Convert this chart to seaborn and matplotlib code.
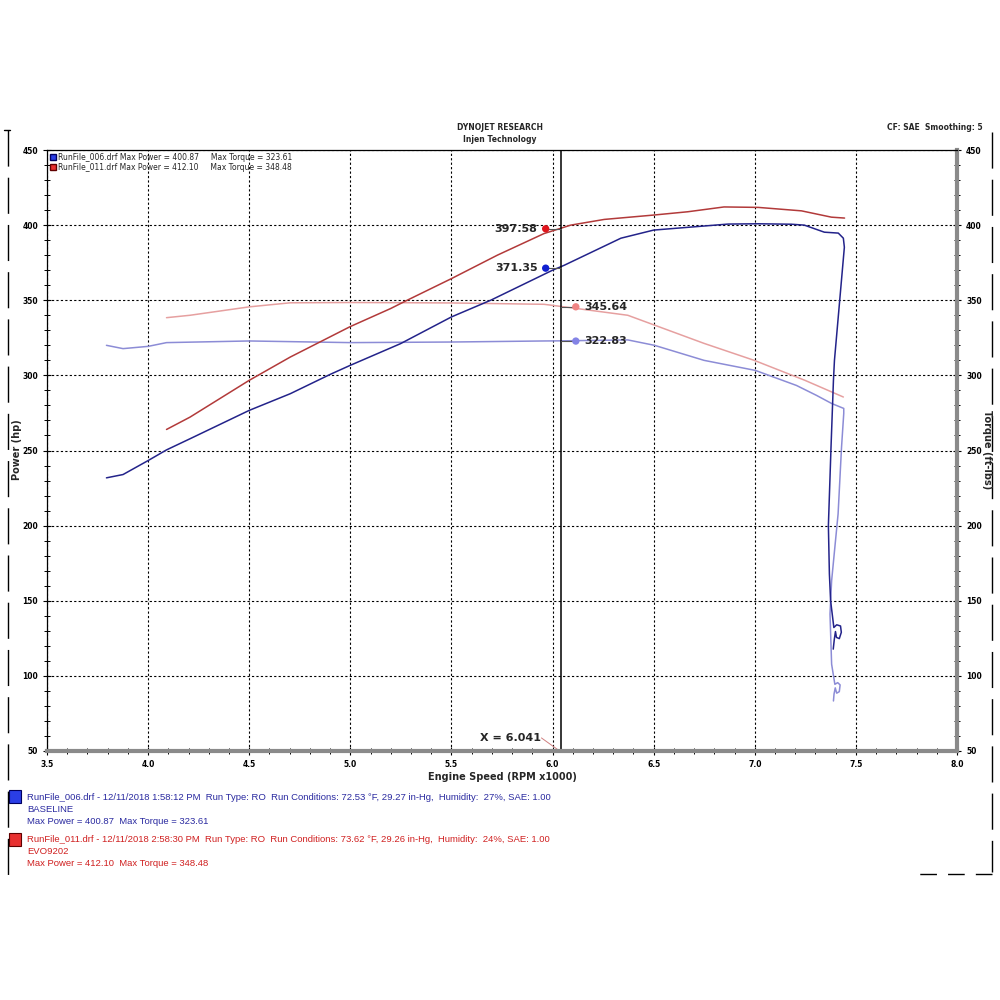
import numpy as np
import pandas as pd
import matplotlib
matplotlib.use("Agg")
import matplotlib.pyplot as plt
from matplotlib.lines import Line2D
from matplotlib.patches import Patch, Rectangle
from matplotlib.ticker import MultipleLocator
import seaborn as sns

# ---------------- data ----------------
base_power_rpm = [3.794, 3.876, 4.0, 4.091, 4.207, 4.5, 4.703, 4.901, 5.0, 5.248, 5.5, 5.694,
                  6.0, 6.058, 6.338, 6.5, 6.868, 7.017, 7.181, 7.245, 7.344, 7.413, 7.438,
                  7.443, 7.394, 7.389, 7.377, 7.364, 7.369, 7.375, 7.391, 7.405, 7.424,
                  7.428, 7.418, 7.404, 7.399, 7.393, 7.388]
base_power_hp = [231.8, 234.0, 243.3, 250.4, 257.8, 276.7, 287.8, 300.7, 306.7, 321.1, 338.9, 350.0,
                 370.0, 373.3, 391.3, 396.7, 400.7, 400.9, 400.6, 400.0, 395.3, 394.7, 391.3,
                 385.3, 310.0, 296.7, 252.2, 200.0, 167.8, 150.0, 132.2, 134.0, 133.2,
                 129.0, 124.8, 125.6, 129.5, 124.0, 117.8]

base_torque_rpm = [3.794, 3.876, 4.0, 4.091, 4.5, 5.0, 5.5, 5.958, 6.058, 6.372, 6.504, 6.749,
                   7.003, 7.206, 7.305, 7.38, 7.44, 7.44, 7.429, 7.412, 7.396, 7.38, 7.372,
                   7.38, 7.396, 7.41, 7.422, 7.418, 7.405, 7.398, 7.392, 7.389]
base_torque_ft = [320.0, 317.8, 319.3, 321.8, 322.9, 321.8, 322.2, 322.9, 323.0, 323.6, 320.0, 310.0,
                  303.3, 293.3, 286.7, 281.3, 278.0, 274.7, 252.2, 207.8, 185.6, 163.3, 141.1,
                  107.8, 94.4, 95.5, 94.0, 89.5, 88.5, 92.0, 88.0, 83.3]

evo_power_rpm = [4.091, 4.207, 4.5, 4.703, 5.0, 5.198, 5.281, 5.5, 5.727, 5.958, 6.09, 6.256,
                 6.5, 6.669, 6.848, 7.017, 7.231, 7.379, 7.444]
evo_power_hp = [264.0, 272.2, 296.7, 312.2, 332.5, 344.4, 350.0, 364.4, 380.0, 394.4, 400.0, 403.8,
                406.7, 408.9, 412.1, 411.8, 409.5, 405.3, 404.7]

evo_torque_rpm = [4.091, 4.207, 4.5, 4.703, 5.0, 5.198, 5.5, 5.958, 6.058, 6.372, 6.749, 6.997,
                  7.248, 7.438]
evo_torque_ft = [338.4, 340.0, 345.6, 348.3, 348.5, 348.4, 348.2, 347.3, 345.6, 340.0, 321.3, 310.0,
                 296.7, 285.6]

cursor_x = 6.041
marker_x = [5.966, 5.966, 6.115, 6.115]
marker_y = [397.58, 371.35, 345.64, 322.83]
marker_lbl = ["397.58", "371.35", "345.64", "322.83"]

x_ticks = [3.5, 4.0, 4.5, 5.0, 5.5, 6.0, 6.5, 7.0, 7.5, 8.0]
y_ticks = [50, 100, 150, 200, 250, 300, 350, 400, 450]

# ---------------- colours ----------------
c_bp = "#23238a"
c_bt = "#8c8cd6"
c_ep = "#b23a3a"
c_et = "#e6a0a0"
m_cols = ["#e0141c", "#1020d0", "#f08484", "#8484e6"]

sns.set_style("white")
plt.rcParams['font.family'] = ['DejaVu Sans']

fig = plt.figure(figsize=(10, 10), dpi=100)
ax = fig.add_axes([0.047, 0.249, 0.910, 0.601])

def draw(rpm, val, col, lw=1.1):
    df = pd.DataFrame({"rpm": rpm, "val": val})
    sns.lineplot(data=df, x="rpm", y="val", sort=False, estimator=None,
                 color=col, linewidth=lw, ax=ax)

draw(evo_torque_rpm, evo_torque_ft, c_et)
draw(base_torque_rpm, base_torque_ft, c_bt)
draw(evo_power_rpm, evo_power_hp, c_ep)
draw(base_power_rpm, base_power_hp, c_bp)

ax.set_xlim(3.5, 8.0)
ax.set_ylim(50, 450)
ax.set_xticks(x_ticks)
ax.set_yticks(y_ticks)
ax.set_xticklabels([f"{v:.1f}" for v in x_ticks])
ax.xaxis.set_minor_locator(MultipleLocator(0.1))
ax.yaxis.set_minor_locator(MultipleLocator(10))
ax.grid(True, which="major", color="black", linestyle=(0, (2, 2)), linewidth=0.8)
ax.set_axisbelow(True)

ax.tick_params(axis="both", which="both", direction="inout", labelsize=5.5, colors="black")
ax.tick_params(axis="y", which="both", left=True, right=True, labelleft=True, labelright=True)
ax.tick_params(axis="x", which="both", bottom=True, top=False)
ax.tick_params(which="major", length=6, width=0.8)
ax.tick_params(which="minor", length=5, width=0.7)
for lab in ax.get_xticklabels() + ax.get_yticklabels():
    lab.set_fontweight("bold")
for lab in ax.yaxis.get_ticklabels(which="major"):
    lab.set_fontweight("bold")

for side in ["left", "top"]:
    ax.spines[side].set_color("black")
    ax.spines[side].set_linewidth(0.9)
for side in ["bottom", "right"]:
    ax.spines[side].set_color("#8a8a8a")
    ax.spines[side].set_linewidth(3)

ax.set_xlabel("Engine Speed (RPM x1000)", fontsize=7, fontweight="bold", labelpad=2)
ax.set_ylabel("")
fig.text(0.0165, 0.55, "Power (hp)", rotation=90, fontsize=7, fontweight="bold",
         ha="center", va="center")
fig.text(0.9865, 0.55, "Torque (ft-lbs)", rotation=270, fontsize=7, fontweight="bold",
         ha="center", va="center")

# cursor
ax.axvline(cursor_x, color="black", linewidth=1.1)
for mx, my, ml, mc in zip(marker_x, marker_y, marker_lbl, m_cols):
    ax.plot([mx, cursor_x], [my, my], color="#555555", linewidth=0.8)
sns.scatterplot(x=marker_x, y=marker_y, hue=marker_lbl, palette=m_cols,
                s=28, edgecolor="none", legend=False, ax=ax, zorder=5)
for mx, my, ml in zip(marker_x, marker_y, marker_lbl):
    if mx < cursor_x:
        ax.text(mx - 0.04, my, ml, ha="right", va="center", fontsize=8, fontweight="bold")
    else:
        ax.text(mx + 0.04, my, ml, ha="left", va="center", fontsize=8, fontweight="bold")

ax.text(5.64, 58.7, "X = 6.041", ha="left", va="center", fontsize=8, fontweight="bold")
ax.plot([5.945, 6.03], [58.7, 50.5], color="#d08080", linewidth=0.7)

# in-plot legend
handles = [Patch(facecolor="#2a3ee6", edgecolor="#000060"),
           Patch(facecolor="#e83030", edgecolor="#600000")]
labels = ["RunFile_006.drf Max Power = 400.87     Max Torque = 323.61",
          "RunFile_011.drf Max Power = 412.10     Max Torque = 348.48"]
leg = ax.legend(handles, labels, loc="upper left", frameon=False, fontsize=5.5,
                handlelength=0.8, handleheight=0.9, handletextpad=0.3,
                labelspacing=0.15, borderaxespad=0.15, borderpad=0.2)

# header
fig.text(0.500, 0.872, "DYNOJET RESEARCH", ha="center", va="center", fontsize=5.5, fontweight="bold")
fig.text(0.500, 0.860, "Injen Technology", ha="center", va="center", fontsize=5.5, fontweight="bold")
fig.text(0.983, 0.873, "CF: SAE  Smoothing: 5", ha="right", va="center", fontsize=5.5, fontweight="bold")

# footer run info
foot_font = ["Liberation Sans", "DejaVu Sans"]
fs = 6.8
blue_txt = "#2a2aa0"
red_txt = "#d02020"
fig.add_artist(Rectangle((0.009, 0.197), 0.012, 0.013, transform=fig.transFigure,
                         facecolor="#2a3ee6", edgecolor="#000060", linewidth=0.8))
fig.add_artist(Rectangle((0.009, 0.154), 0.012, 0.013, transform=fig.transFigure,
                         facecolor="#e83030", edgecolor="#600000", linewidth=0.8))
fig.text(0.027, 0.203,
         "RunFile_006.drf - 12/11/2018 1:58:12 PM  Run Type: RO  Run Conditions: 72.53 °F, 29.27 in-Hg,  Humidity:  27%, SAE: 1.00",
         fontsize=fs, color=blue_txt, va="center", family=foot_font)
fig.text(0.027, 0.191, "BASELINE", fontsize=fs, color=blue_txt, va="center", family=foot_font)
fig.text(0.027, 0.179, "Max Power = 400.87  Max Torque = 323.61", fontsize=fs, color=blue_txt,
         va="center", family=foot_font)
fig.text(0.027, 0.160,
         "RunFile_011.drf - 12/11/2018 2:58:30 PM  Run Type: RO  Run Conditions: 73.62 °F, 29.26 in-Hg,  Humidity:  24%, SAE: 1.00",
         fontsize=fs, color=red_txt, va="center", family=foot_font)
fig.text(0.027, 0.148, "EVO9202", fontsize=fs, color=red_txt, va="center", family=foot_font)
fig.text(0.027, 0.136, "Max Power = 412.10  Max Torque = 348.48", fontsize=fs, color=red_txt,
         va="center", family=foot_font)

# page border (dashed)
fig.add_artist(Line2D([0.008, 0.008], [0.870, 0.120], transform=fig.transFigure,
                      color="black", linewidth=1.0, linestyle=(0, (26, 8))))
fig.add_artist(Line2D([0.004, 0.010], [0.870, 0.870], transform=fig.transFigure,
                      color="black", linewidth=1.0))
fig.add_artist(Line2D([0.992, 0.992], [0.868, 0.128], transform=fig.transFigure,
                      color="black", linewidth=1.0, linestyle=(0, (26, 8))))
fig.add_artist(Line2D([0.992, 0.918], [0.126, 0.126], transform=fig.transFigure,
                      color="black", linewidth=1.0, linestyle=(0, (12, 8))))

fig.savefig("out.png", dpi=100, facecolor="white")
